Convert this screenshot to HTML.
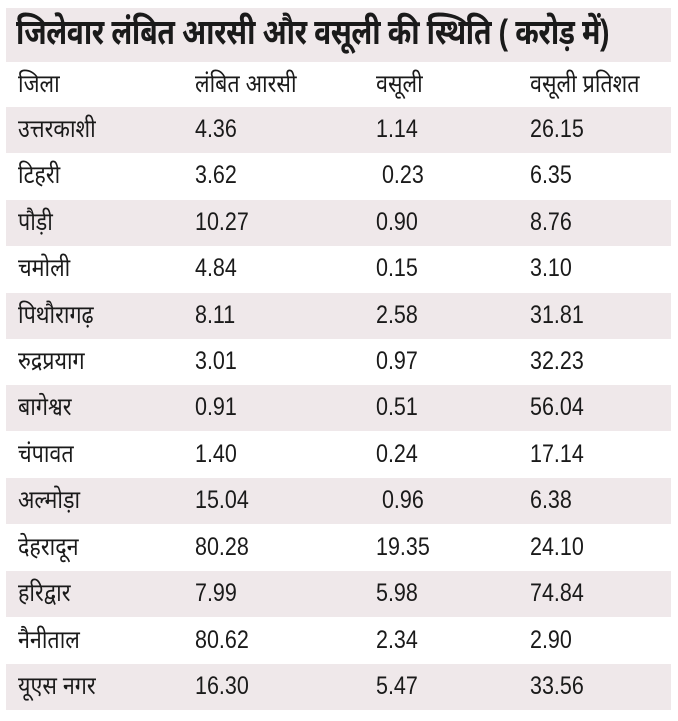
<!DOCTYPE html>
<html><head><meta charset="utf-8"><style>
body{margin:0;width:678px;height:721px;background:#fff;overflow:hidden;font-family:"Liberation Sans","Noto Sans Devanagari","Lohit Devanagari",sans-serif;color:#1a1a1a;position:relative}
.t{position:absolute;left:6px;top:8px;width:665px;height:54px;background:#efe8ea}
.t span{position:absolute;left:10px;top:5px;font-size:35px;font-weight:bold;white-space:nowrap;transform:scaleX(0.81);transform-origin:left center;letter-spacing:-0.5px}
.r{position:absolute;left:6px;width:665px;height:46px}
.s{background:#efe8ea}
.c{position:absolute;top:8px;font-size:25px;white-space:nowrap;transform:scaleX(0.86);transform-origin:left center}
.a{left:12px}.b{left:189px}.d{left:370px}.e{left:524px}
</style></head><body>
<div class="t"><span>जिलेवार लंबित आरसी और वसूली की स्थिति ( करोड़ में)</span></div>
<div class="r" style="top:62px"><span class="c a">जिला</span><span class="c b">लंबित आरसी</span><span class="c d">वसूली</span><span class="c e">वसूली प्रतिशत</span></div>
<div class="r s" style="top:107px"><span class="c a">उत्तरकाशी</span><span class="c b">4.36</span><span class="c d">1.14</span><span class="c e">26.15</span></div>
<div class="r" style="top:153px"><span class="c a">टिहरी</span><span class="c b">3.62</span><span class="c d">&nbsp;0.23</span><span class="c e">6.35</span></div>
<div class="r s" style="top:200px"><span class="c a">पौड़ी</span><span class="c b">10.27</span><span class="c d">0.90</span><span class="c e">8.76</span></div>
<div class="r" style="top:246px"><span class="c a">चमोली</span><span class="c b">4.84</span><span class="c d">0.15</span><span class="c e">3.10</span></div>
<div class="r s" style="top:293px"><span class="c a">पिथौरागढ़</span><span class="c b">8.11</span><span class="c d">2.58</span><span class="c e">31.81</span></div>
<div class="r" style="top:339px"><span class="c a">रुद्रप्रयाग</span><span class="c b">3.01</span><span class="c d">0.97</span><span class="c e">32.23</span></div>
<div class="r s" style="top:385px"><span class="c a">बागेश्वर</span><span class="c b">0.91</span><span class="c d">0.51</span><span class="c e">56.04</span></div>
<div class="r" style="top:432px"><span class="c a">चंपावत</span><span class="c b">1.40</span><span class="c d">0.24</span><span class="c e">17.14</span></div>
<div class="r s" style="top:478px"><span class="c a">अल्मोड़ा</span><span class="c b">15.04</span><span class="c d">&nbsp;0.96</span><span class="c e">6.38</span></div>
<div class="r" style="top:525px"><span class="c a">देहरादून</span><span class="c b">80.28</span><span class="c d">19.35</span><span class="c e">24.10</span></div>
<div class="r s" style="top:571px"><span class="c a">हरिद्वार</span><span class="c b">7.99</span><span class="c d">5.98</span><span class="c e">74.84</span></div>
<div class="r" style="top:618px"><span class="c a">नैनीताल</span><span class="c b">80.62</span><span class="c d">2.34</span><span class="c e">2.90</span></div>
<div class="r s" style="top:664px"><span class="c a">यूएस नगर</span><span class="c b">16.30</span><span class="c d">5.47</span><span class="c e">33.56</span></div>
</body></html>
